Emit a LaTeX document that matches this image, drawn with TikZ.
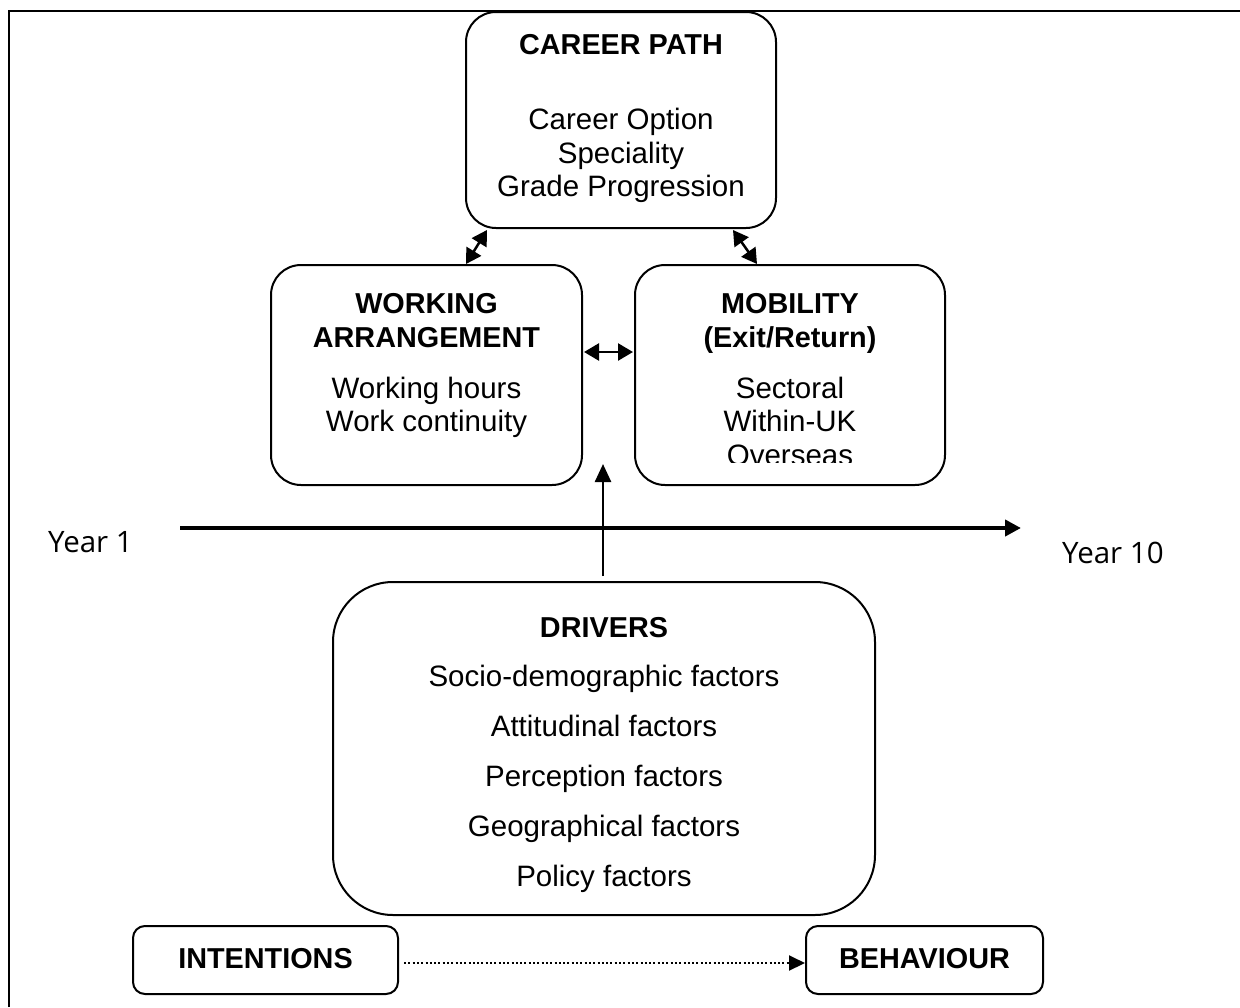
\documentclass[tikz,border=0pt]{standalone}
\usepackage{fontspec}
\setmainfont{Liberation Sans}
\newfontfamily\yearfont{Open Sans}
\usetikzlibrary{arrows.meta,calc}
\begin{document}
\begin{tikzpicture}[x=1pt,y=-1pt,
  box/.style={draw, line width=2pt, rounded corners=#1, inner sep=0pt},
  txt/.style={anchor=base, inner sep=0pt, font=\fontsize{29.5}{34}\selectfont},
  hd/.style={anchor=base, inner sep=0pt, font=\fontsize{28.8}{34}\selectfont\bfseries},
  yr/.style={anchor=base west, inner sep=0pt, font=\fontsize{29.5}{34}\yearfont},
  dbl/.style={line width=2.5pt, {Triangle[length=15pt,width=17pt]}-{Triangle[length=15pt,width=17pt]}},
  sgl/.style={line width=2.5pt, -{Triangle[length=18pt,width=16pt]}}]
\useasboundingbox (0,0) rectangle (1240,1007);
% frame
\draw[line width=2.5pt] (9,1007) -- (9,11) -- (1240,11);
% boxes
\node[box=30, minimum width=310, minimum height=216] (career) at (621,120) {};
\node[box=30, minimum width=311, minimum height=220] (work) at (426.5,375) {};
\node[box=30, minimum width=310, minimum height=220] (mob) at (790,375) {};
\node[box=60, minimum width=542, minimum height=333] (drivers) at (604,748.5) {};
\node[box=12, minimum width=265, minimum height=68] (intent) at (265.5,960) {};
\node[box=12, minimum width=237, minimum height=68] (behav) at (924.5,960) {};
% career text
\node[hd] (t1) at (621,54) {CAREER PATH};
\node[txt] (t2) at (621,129) {Career Option};
\node[txt] (t3) at (621,163) {Speciality};
\node[txt] (t4) at (621,196) {Grade Progression};
% working text
\node[hd] (w1) at (426.5,313) {WORKING};
\node[hd] (w2) at (426.5,347) {ARRANGEMENT};
\node[txt] (w3) at (426.5,398) {Working hours};
\node[txt] (w4) at (426.5,431) {Work continuity};
% mobility text
\node[hd] (m1) at (790,313) {MOBILITY};
\node[hd] (m2) at (790,347) {(Exit/Return)};
\node[txt] (m3) at (790,398) {Sectoral};
\node[txt] (m4) at (790,431) {Within-UK};
\begin{scope}
\clip (640,440) rectangle (940,462);
\node[txt] (m5) at (790,465) {Overseas};
\end{scope}
% drivers text
\node[hd] (d1) at (604,637) {DRIVERS};
\node[txt] (d2) at (604,686) {Socio-demographic factors};
\node[txt] (d3) at (604,736) {Attitudinal factors};
\node[txt] (d4) at (604,786) {Perception factors};
\node[txt] (d5) at (604,836) {Geographical factors};
\node[txt] (d6) at (604,886) {Policy factors};
% bottom labels
\node[hd] (i1) at (265.5,968) {INTENTIONS};
\node[hd] (b1) at (924.5,968) {BEHAVIOUR};
% year axis
\node[yr] (year1) at (48,552) {Year 1};
\node[yr] (year10) at (1062,563) {Year 10};
\coordinate (ys) at (180,528);
\coordinate (ye) at (1021,528);
\draw[line width=4pt, -{Triangle[length=16pt,width=16pt]}] (ys) -- (ye);
% connectors
\draw[dbl] ($(career.south west)+(22,1)$) -- ($(work.north west)+(196,0)$);
\draw[dbl] ($(career.south east)+(-44,1)$) -- ($(mob.north west)+(123,0)$);
\draw[dbl] ($(work.east)+(1,-23)$) -- ($(mob.west)+(-1,-23)$);
\coordinate (vt) at (603,464);
\draw[sgl] ($(drivers.north)+(-1,-5)$) -- (vt);
\draw[line width=2pt, dash pattern=on 2pt off 2.3pt, -{Triangle[length=16pt,width=15pt]}] ($(intent.east)+(5,3)$) -- ($(behav.west)+(0,3)$);
\end{tikzpicture}
\end{document}
